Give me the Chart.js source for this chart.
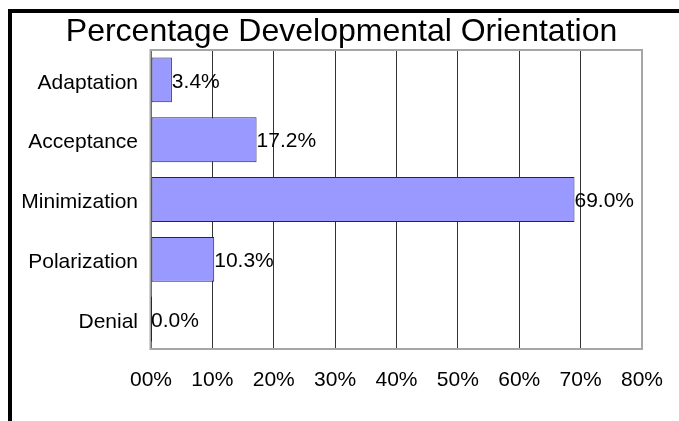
<!DOCTYPE html>
<html>
<head>
<meta charset="utf-8">
<script src="https://cdn.jsdelivr.net/npm/chart.js@4/dist/chart.umd.min.js"></script>
<style>
    html, body { margin: 0; padding: 0; background: #fff; }
    #wrap { width: 679px; height: 421px; position: relative; }
</style>
</head>
<body>
<div id="wrap"><canvas id="chart"></canvas></div>
<script>
const categories = ['Adaptation', 'Acceptance', 'Minimization', 'Polarization', 'Denial'];
const percentages = [3.4, 17.2, 69.0, 10.3, 0.0];
const xTicks = [0, 10, 20, 30, 40, 50, 60, 70, 80];
const TITLE = 'Percentage Developmental Orientation';

const FONT = '"Liberation Sans", Arial, sans-serif';

// black frame on the left/top edges, title, grey plot box
const framePlugin = {
    id: 'frame',
    beforeDraw(chart) {
        const { ctx, width, height } = chart;
        ctx.save();
        ctx.fillStyle = '#fff';
        ctx.fillRect(0, 0, width, height);
        ctx.fillStyle = '#000';
        ctx.fillRect(8, 9, width - 8, 4);
        ctx.fillRect(8, 9, 4, height - 9);
        ctx.font = '32px ' + FONT;
        ctx.textAlign = 'center';
        ctx.textBaseline = 'alphabetic';
        ctx.fillText(TITLE, 341.5, 41);
        ctx.restore();
    },
    beforeDatasetsDraw(chart) {
        const { ctx, chartArea: a } = chart;
        ctx.save();
        ctx.strokeStyle = '#a6a6a6';
        ctx.lineWidth = 2;
        ctx.strokeRect(a.left - 0.5, a.top, a.right - a.left + 0.5, a.bottom - a.top);
        ctx.restore();
    },
};

// category names (slightly below bar centre, as in the source) and value labels
const labelsPlugin = {
    id: 'labels',
    afterDraw(chart) {
        const { ctx } = chart;
        const y = chart.scales.y;
        const meta = chart.getDatasetMeta(0);
        ctx.save();
        ctx.font = '21px ' + FONT;
        ctx.fillStyle = '#000';
        ctx.textBaseline = 'middle';
        ctx.textAlign = 'right';
        categories.forEach((c, i) => {
            ctx.fillText(c, y.right - 13, y.getPixelForTick(i) + 3);
        });
        ctx.textAlign = 'left';
        meta.data.forEach((bar, i) => {
            ctx.fillText(percentages[i].toFixed(1) + '%', bar.x, bar.y + 2);
        });
        // zero-width bar still shows its outline
        meta.data.forEach((bar, i) => {
            if (percentages[i] === 0) {
                ctx.strokeStyle = '#222255';
                ctx.lineWidth = 1;
                ctx.beginPath();
                ctx.moveTo(bar.x + 0.5, bar.y - bar.height / 2);
                ctx.lineTo(bar.x + 0.5, bar.y + bar.height / 2);
                ctx.stroke();
            }
        });
        ctx.restore();
    },
};

new Chart(document.getElementById('chart'), {
    type: 'bar',
    data: {
        labels: categories,
        datasets: [{
            data: percentages,
            backgroundColor: '#9999ff',
            borderColor: '#222255',
            borderWidth: 1,
            borderSkipped: false,
            barPercentage: 0.75,
            categoryPercentage: 1,
        }],
    },
    options: {
        indexAxis: 'y',
        responsive: true,
        maintainAspectRatio: false,
        animation: false,
        layout: { padding: { left: 12, right: 37, top: 50, bottom: 0 } },
        plugins: {
            legend: { display: false },
            tooltip: { enabled: false },
            title: { display: false },
        },
        scales: {
            x: {
                min: 0, max: 80,
                afterBuildTicks: (s) => { s.ticks = xTicks.map((v) => ({ value: v })); },
                afterFit: (s) => { s.height = 72; s.paddingLeft = 0; s.paddingRight = 0; },
                border: { display: false },
                grid: { color: '#333', lineWidth: 1, drawTicks: false },
                ticks: {
                    padding: 19,
                    color: '#000',
                    font: { family: FONT, size: 21 },
                    maxRotation: 0,
                    autoSkip: false,
                    callback: (v) => (v === 0 ? '00%' : v + '%'),
                },
            },
            y: {
                afterFit: (s) => { s.width = 139; },
                border: { display: false },
                grid: { display: false, drawTicks: false },
                ticks: { display: false },
            },
        },
    },
    plugins: [framePlugin, labelsPlugin],
});
</script>
</body>
</html>
